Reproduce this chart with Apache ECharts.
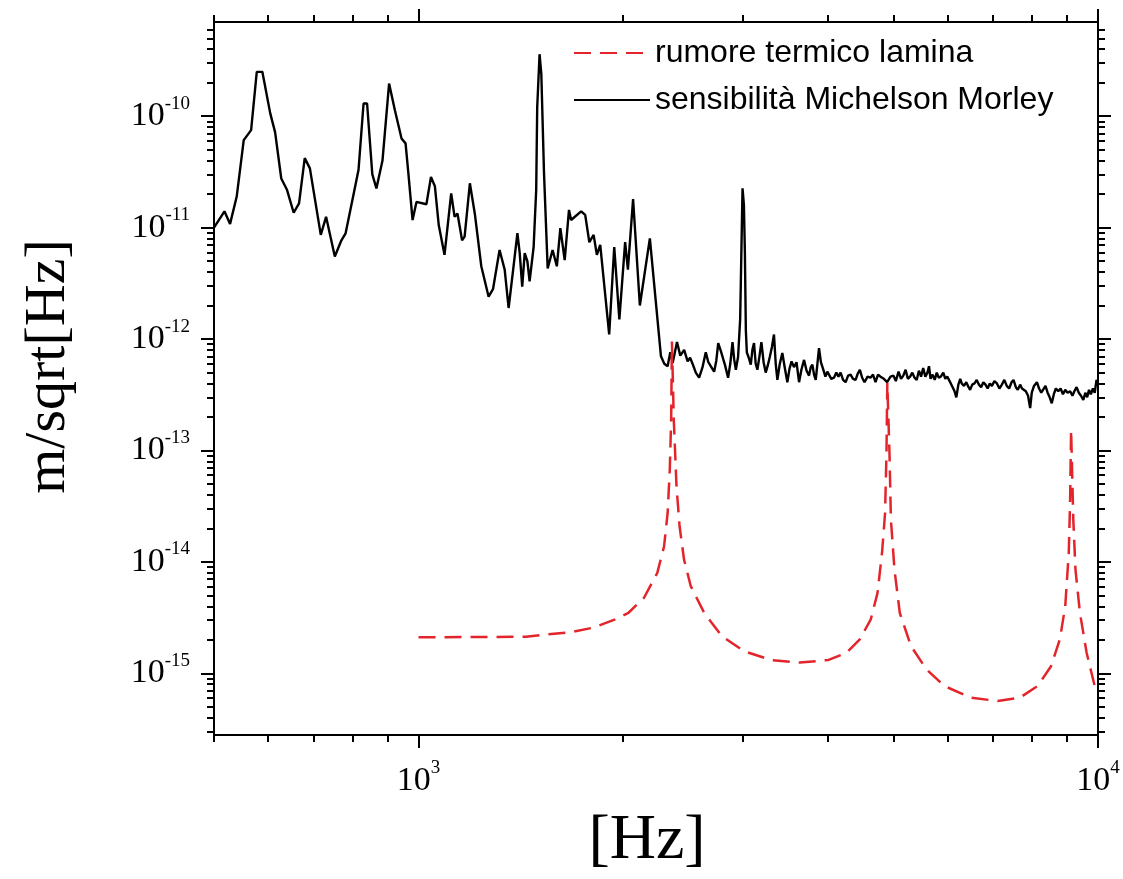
<!DOCTYPE html>
<html><head><meta charset="utf-8">
<script src="https://cdn.jsdelivr.net/npm/echarts@6/dist/echarts.min.js"></script>
<style>html,body{margin:0;padding:0;background:#fff}#c{width:1123px;height:879px}</style>
</head><body><div id="c"></div>
<script>
// ---- data ----
const sensFreq = [500,518,528,540,553,567,578,589,605,615,628,640,655,667,680,692,718,731,753,770,781,802,816,830,840,855,867,885,905,923,944,957,966,980,993,1027,1043,1057,1071,1092,1117,1130,1141,1159,1169,1190,1210,1237,1268,1287,1316,1339,1357,1378,1398,1409,1421,1433,1446,1457,1477,1490,1495,1507,1516,1530,1549,1575,1598,1617,1641,1665,1677,1735,1759,1784,1810,1830,1851,1908,1941,1975,2014,2033,2069,2117,2190,2274,
2300,2326,2347,2366,2401,2428,2460,2489,2510,2531,2559,2588,2618,2647,2670,2693,2723,2743,2761,2786,2806,2824,2855,2876,2898,2914,2931,2953,2974,2998,3012,3022,3032,3042,3062,3083,3100,3117,3135,3153,3175,3196,3220,3243,3266,3290,3312,3335,3355,3374,3400,3431,3460,3490,3515,3540,3569,3600,3631,3660,3693,3725,3756,3778,3799,3820,3842,3864,3885,3910,3943,3970,3996,4020,4050,4087,4120,4150,4180,4215,4251,4288,4324,4360,4398,4430,4462,4497,4533,4580,4626,4665,4705,4745,4785,4840,4894,4950,5000,5040,5087,5130,5170,5210,5250,5290,5330,5370,5410,5450,5490,5530,5570,5610,5640,5670,5710,5750,5790,5830,5870,5920,5960,6000,6060,6110,6150,6187,6230,6270,6300,6350,6400,6450,6483,6530,6580,6630,6680,6730,6780,6830,6880,6930,6980,7040,7100,7160,7220,7280,7340,7400,7460,7510,7570,7620,7680,7730,7775,7830,7890,7946,7990,8050,8130,8190,8250,8300,8370,8430,8490,8550,8610,8670,8740,8810,8880,8950,9020,9100,9170,9230,9300,9370,9440,9515,9580,9640,9700,9760,9830,9890,9950,10000];
const sensAmp = [1.0e-11,1.4e-11,1.08e-11,1.9e-11,6.1e-11,7.5e-11,2.5e-10,2.5e-10,1.06e-10,7.2e-11,2.76e-11,2.2e-11,1.36e-11,1.65e-11,4.2e-11,3.4e-11,8.6e-12,1.25e-11,5.5e-12,7.7e-12,8.9e-12,1.96e-11,3.3e-11,1.3e-10,1.3e-10,3.0e-11,2.25e-11,4.0e-11,1.96e-10,1.13e-10,6.3e-11,5.7e-11,3.1e-11,1.17e-11,1.7e-11,1.62e-11,2.85e-11,2.35e-11,1.05e-11,5.7e-12,2.03e-11,1.25e-11,1.34e-11,7.7e-12,8.3e-12,2.5e-11,1.34e-11,4.5e-12,2.4e-12,2.8e-12,6.3e-12,4.2e-12,1.9e-12,4.2e-12,8.9e-12,5.9e-12,2.95e-12,5.9e-12,5.0e-12,3.3e-12,6.7e-12,2.2e-11,1.2e-10,3.6e-10,2.4e-10,3.05e-11,4.3e-12,6.3e-12,4.5e-12,9.9e-12,5.1e-12,1.44e-11,1.17e-11,1.4e-11,1.3e-11,7.4e-12,8.6e-12,5.7e-12,7.0e-12,1.1e-12,6.7e-12,1.5e-12,7.4e-12,4.2e-12,1.8e-11,2.0e-12,8.0e-12,7.0e-13,
6.0e-13,5.7e-13,7.6e-13,6.1e-13,9.4e-13,7.1e-13,8.0e-13,6.3e-13,6.8e-13,6.0e-13,5.0e-13,4.5e-13,5.6e-13,7.6e-13,6.2e-13,5.7e-13,5.1e-13,6.4e-13,9.2e-13,7.8e-13,6.7e-13,5.9e-13,4.5e-13,6.0e-13,9.4e-13,6.6e-13,5.3e-13,6.9e-13,1.5e-12,2.25e-11,1.6e-11,6.0e-12,1.2e-12,7.6e-13,6.8e-13,5.9e-13,8.0e-13,9.2e-13,6.0e-13,5.3e-13,7.0e-13,9.4e-13,6.2e-13,5.0e-13,5.8e-13,7.0e-13,8.5e-13,1.1e-12,6.0e-13,4.3e-13,5.9e-13,7.5e-13,5.5e-13,4.1e-13,5.4e-13,6.3e-13,5.6e-13,6.2e-13,4.1e-13,5.3e-13,6.5e-13,5.2e-13,4.7e-13,5.6e-13,5.9e-13,4.8e-13,4.3e-13,6.0e-13,8.3e-13,6.2e-13,5.3e-13,4.6e-13,5.1e-13,4.9e-13,4.4e-13,4.5e-13,5.0e-13,4.6e-13,5.0e-13,4.3e-13,4.1e-13,4.7e-13,4.8e-13,4.4e-13,4.3e-13,4.9e-13,5.3e-13,4.5e-13,4.1e-13,4.6e-13,4.5e-13,4.8e-13,4.1e-13,4.8e-13,4.6e-13,4.4e-13,4.1e-13,4.6e-13,4.7e-13,4.2e-13,5.1e-13,4.4e-13,4.7e-13,5.3e-13,4.4e-13,4.6e-13,5.0e-13,4.5e-13,4.3e-13,5.2e-13,4.6e-13,5.5e-13,4.6e-13,5.0e-13,5.7e-13,4.4e-13,4.8e-13,4.3e-13,5.0e-13,4.5e-13,4.6e-13,5.0e-13,4.4e-13,4.6e-13,4.1e-13,3.7e-13,3.4e-13,3.0e-13,3.9e-13,4.4e-13,4.0e-13,3.8e-13,4.1e-13,3.7e-13,3.5e-13,3.9e-13,4.0e-13,4.3e-13,3.9e-13,3.7e-13,4.1e-13,3.9e-13,3.6e-13,4.0e-13,3.8e-13,4.2e-13,4.0e-13,3.6e-13,3.9e-13,4.3e-13,3.8e-13,3.6e-13,4.1e-13,4.3e-13,3.7e-13,3.5e-13,3.9e-13,3.6e-13,3.7e-13,3.4e-13,3.1e-13,2.4e-13,3.3e-13,3.8e-13,4.1e-13,3.6e-13,3.3e-13,3.5e-13,3.8e-13,3.3e-13,3.0e-13,2.65e-13,3.2e-13,3.6e-13,3.4e-13,3.6e-13,3.2e-13,3.5e-13,3.3e-13,3.4e-13,3.1e-13,3.4e-13,3.7e-13,3.3e-13,3.1e-13,2.85e-13,3.3e-13,3.0e-13,3.5e-13,3.2e-13,3.6e-13,3.3e-13,4.3e-13,4.0e-13];

const thermFreq = [1000,1200,1440,1552,1674,1806,1947,2037,2147,2246,2298,2326,2343,2354,2360,2375,2397,2422,2459,2516,2632,2796,3014,3299,3639,4013,4263,4461,4630,4737,4810,4860,4883,4897,4933,4957,5017,5108,5305,5589,5941,6504,7117,7674,8150,8528,8788,8949,9057,9097,9129,9197,9265,9406,9622,9916,10000];
const thermAmp = [2.11e-15,2.12e-15,2.13e-15,2.24e-15,2.34e-15,2.57e-15,3.05e-15,3.5e-15,4.77e-15,7.98e-15,1.38e-14,2.75e-14,6.73e-14,1.89e-13,9.5e-13,1.89e-13,4.76e-14,2.09e-14,1.05e-14,6.06e-15,3.5e-15,2.16e-15,1.58e-15,1.32e-15,1.25e-15,1.32e-15,1.53e-15,2.02e-15,3.05e-15,5.28e-15,1.21e-14,2.75e-14,9.5e-14,4.03e-13,9.5e-14,2.4e-14,8.55e-15,3.5e-15,1.76e-15,1.09e-15,7.7e-16,6.05e-16,5.65e-16,6.05e-16,7.7e-16,1.16e-15,2.02e-15,4.01e-15,1.21e-14,3.39e-14,1.53e-13,2.4e-14,8.55e-15,3.5e-15,1.53e-15,7.2e-16,6.9e-16];

const seriesNames = ['rumore termico lamina', 'sensibilità Michelson Morley'];
const xName = '[Hz]';
const yName = 'm/sqrt[Hz]';
const xRange = [500, 10000];
const yRange = [2.8e-16, 7e-10];
const xMajorTicks = [1000, 10000];
const xMinorTicks = [500, 600, 700, 800, 900, 2000, 3000, 4000, 5000, 6000, 7000, 8000, 9000];
const yMajorTicks = [1e-15, 1e-14, 1e-13, 1e-12, 1e-11, 1e-10];
const minorMantissas = [2, 3, 4, 5, 6, 7, 8, 9];
const yMinorTicks = [];
for (let e = -16; e <= -10; e++) {
  minorMantissas.forEach(m => {
    const v = m * Math.pow(10, e);
    if (v > yRange[0] && v < yRange[1] * 0.999) yMinorTicks.push(v);
  });
}

// ---- chart ----
const SERIF = 'Liberation Serif';
const SANS = 'Liberation Sans';
const lineSt = { color: '#000', width: 2 };
const richLabel = {
  b: { fontSize: 34, lineHeight: 44, fontFamily: SERIF, color: '#000' },
  s: { fontSize: 19, lineHeight: 19, fontFamily: SERIF, color: '#000', verticalAlign: 'top' }
};
const powFmt = v => '{b|10}{s|' + Math.round(Math.log10(v)) + '}';

function xAxisDef(grid, pos, ticks, len, major, labels) {
  return {
    gridIndex: grid, type: 'log', position: pos, min: xRange[0], max: xRange[1],
    axisLine: { show: major, lineStyle: lineSt },
    axisTick: { show: true, customValues: ticks, length: len, inside: false, lineStyle: { color: '#000', width: 2 } },
    axisLabel: labels ? { show: true, customValues: ticks, formatter: powFmt, rich: richLabel, margin: 24 } : { show: false },
    splitLine: { show: false }, minorTick: { show: false }
  };
}
function yAxisDef(grid, pos, ticks, len, major, labels) {
  return {
    gridIndex: grid, type: 'log', position: pos, min: yRange[0], max: yRange[1],
    axisLine: { show: major, lineStyle: lineSt },
    axisTick: { show: true, customValues: ticks, length: len, inside: false, lineStyle: { color: '#000', width: 2 } },
    axisLabel: labels ? { show: true, customValues: ticks, formatter: powFmt, rich: richLabel, margin: 24 } : { show: false },
    splitLine: { show: false }, minorTick: { show: false }
  };
}

const gridBox = { left: 214, right: 25, top: 22, bottom: 144 };
const xAxes = [
  xAxisDef(0, 'bottom', xMajorTicks, 13, true, true),
  xAxisDef(0, 'top', xMajorTicks, 13, true, false),
  xAxisDef(1, 'bottom', xMinorTicks, 7, false, false),
  xAxisDef(1, 'top', xMinorTicks, 7, false, false)
];
Object.assign(xAxes[0], {
  name: xName, nameLocation: 'middle', nameGap: 74,
  nameTextStyle: { fontFamily: SERIF, fontSize: 64, color: '#000', verticalAlign: 'top', padding: [0, 18, 0, 0] }
});
const yAxes = [
  yAxisDef(0, 'left', yMajorTicks, 13, true, true),
  yAxisDef(0, 'right', yMajorTicks, 13, true, false),
  yAxisDef(1, 'left', yMinorTicks, 7, false, false),
  yAxisDef(1, 'right', yMinorTicks, 7, false, false)
];
Object.assign(yAxes[0], {
  name: yName, nameLocation: 'middle', nameGap: 136, nameRotate: 90,
  nameTextStyle: { fontFamily: SERIF, fontSize: 58, color: '#000', padding: [0, 0, 0, 24] }
});

const chart = echarts.init(document.getElementById('c'), null, { renderer: 'canvas' });
chart.setOption({
  animation: false,
  backgroundColor: '#fff',
  grid: [Object.assign({}, gridBox), Object.assign({}, gridBox)],
  xAxis: xAxes,
  yAxis: yAxes,
  legend: {
    data: seriesNames, orient: 'vertical', left: 568, top: 32,
    itemWidth: 76, itemHeight: 14, itemGap: 15,
    itemStyle: { opacity: 0, borderWidth: 0 },
    textStyle: { fontFamily: SANS, fontSize: 32, color: '#000' }
  },
  series: [
    {
      name: seriesNames[0], type: 'line', xAxisIndex: 0, yAxisIndex: 0,
      data: thermFreq.map((f, i) => [f, thermAmp[i]]),
      symbol: 'none', showSymbol: false,
      lineStyle: { color: '#e3242b', width: 2.5, type: [17, 9] },
      itemStyle: { color: '#e3242b' }, z: 3
    },
    {
      name: seriesNames[1], type: 'line', xAxisIndex: 0, yAxisIndex: 0,
      data: sensFreq.map((f, i) => [f, sensAmp[i]]),
      symbol: 'none', showSymbol: false,
      lineStyle: { color: '#000', width: 2.4 },
      itemStyle: { color: '#000' }, z: 2
    }
  ]
});
</script></body></html>
